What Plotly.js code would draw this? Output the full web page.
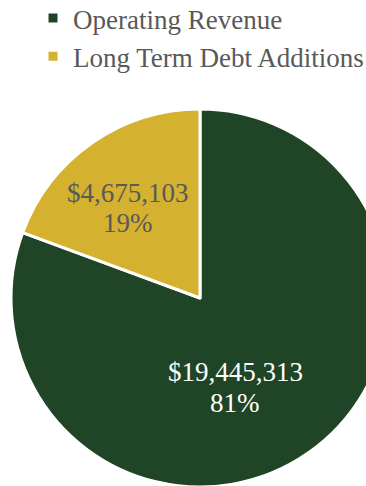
<!DOCTYPE html>
<html><head><meta charset="utf-8">
<script src="https://cdn.plot.ly/plotly-3.0.1.min.js"></script>
<style>html,body{margin:0;padding:0;overflow:hidden;background:#fff;width:366px;height:486px}
#chart{position:absolute;left:0;top:-6px}</style>
</head><body>
<div id="chart" style="width:400px;height:500px"></div>
<script>
const categories = ['Operating Revenue', 'Long Term Debt Additions'];
const values = [19445313, 4675103];
const colors = ['#1f4526', '#d5b130'];
const labelColors = ['#ffffff', '#595959'];

const W = 400, H = 500, OFF = 6;
const serif = 'Liberation Serif, Times New Roman, serif';
const total = values.reduce((a, b) => a + b, 0);

// label anchor points (screen pixels) for each slice's data label
const labelPos = [[235, 372, 403], [128, 193, 223]];

const annotations = [];
values.forEach((v, i) => {
  const [px, py1, py2] = labelPos[i];
  const pct = Math.round(v / total * 100) + '%';
  const money = '$' + v.toLocaleString('en-US');
  [[money, py1], [pct, py2]].forEach(([t, py]) => {
    annotations.push({
      xref: 'paper', yref: 'paper', x: px / W, y: 1 - (py + OFF) / H,
      xanchor: 'center', yanchor: 'middle', showarrow: false,
      text: t, font: {family: serif, size: 27, color: labelColors[i]}
    });
  });
});

const trace = {
  type: 'pie',
  labels: categories,
  values: values,
  sort: false,
  direction: 'clockwise',
  rotation: 0,
  marker: {colors: colors, line: {color: '#ffffff', width: 3}},
  textinfo: 'none',
  hoverinfo: 'none',
  domain: {x: [11 / W, 389 / W], y: [1 - (487 + OFF) / H, 1 - (109 + OFF) / H]}
};

const layout = {
  width: W, height: H,
  margin: {l: 0, r: 0, t: 0, b: 0},
  paper_bgcolor: '#ffffff',
  showlegend: true,
  annotations: annotations,
  legend: {
    x: 33 / W, xanchor: 'left', y: 1, yanchor: 'top',
    font: {family: serif, size: 27, color: '#595959'},
    itemwidth: 30, tracegroupgap: 0
  }
};
Plotly.newPlot('chart', [trace], layout, {staticPlot: true});
</script>
</body></html>
